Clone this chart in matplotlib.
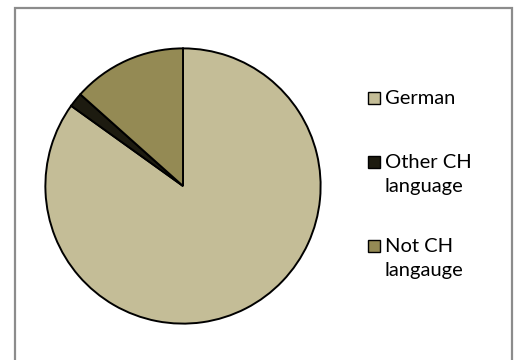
import matplotlib.pyplot as plt
from matplotlib.patches import Rectangle

# language shares
labels = ["German", "Other CH\nlanguage", "Not CH\nlangauge"]
shares = [84.9, 1.7, 13.4]
colors = ["#C4BD97", "#1D1B10", "#948A54"]

W, H = 514, 360
fig = plt.figure(figsize=(W / 100, H / 100), dpi=100)
fig.patch.set_facecolor("white")

# pie: centre (183,186) px, radius 139 px
cx, cy, r = 183, 186, 139
ax = fig.add_axes([(cx - r) / W, (H - cy - r) / H, 2 * r / W, 2 * r / H])
ax.pie(shares, colors=colors, startangle=90, counterclock=False,
       wedgeprops=dict(edgecolor="black", linewidth=1.4))
ax.set_xlim(-1.01, 1.01)
ax.set_ylim(-1.01, 1.01)
ax.set_aspect("equal")
ax.axis("off")

# chart frame
fig.patches.append(Rectangle((15 / W, -0.02), (512 - 15) / W, 1.02 - 8 / H,
                             transform=fig.transFigure, fill=False,
                             edgecolor="#8C8C8C", linewidth=1.6))

# legend drawn by hand so markers sit on the first text line
rows_y = [98, 162, 246]
for lab, col, y in zip(labels, colors, rows_y):
    fig.patches.append(Rectangle((368 / W, (H - y - 6) / H), 12 / W, 12 / H,
                                 transform=fig.transFigure, facecolor=col,
                                 edgecolor="black", linewidth=1.0))
    fig.text(385 / W, (H - y + 8) / H, lab, transform=fig.transFigure,
             fontsize=14.5, family="Lato", va="top", ha="left",
             linespacing=1.5, color="black")

fig.savefig("out.png", dpi=100)
